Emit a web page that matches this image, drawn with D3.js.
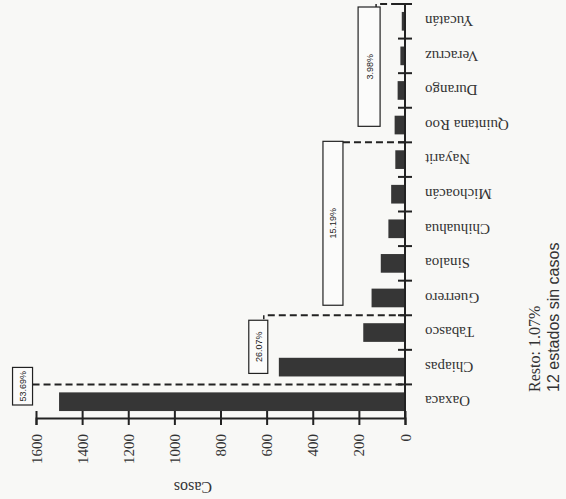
<!DOCTYPE html>
<html>
<head>
<meta charset="utf-8">
<script src="https://cdn.jsdelivr.net/npm/d3@7"></script>
<style>
  body { margin: 0; background: #f8f8f6; }
  svg { display: block; }
</style>
</head>
<body>
<div id="chart"></div>
<script>
// data
var estados = ["Oaxaca", "Chiapas", "Tabasco", "Guerrero", "Sinaloa", "Chihuahua",
               "Michoacán", "Nayarit", "Quintana Roo", "Durango", "Veracruz", "Yucatán"];
var casos = [1500, 547, 181, 145, 105, 72, 60, 42, 45, 32, 20, 14];
var casosTicks = [0, 200, 400, 600, 800, 1000, 1200, 1400, 1600];

// groups of states and their share of cases
var grupoDesde = ["Oaxaca", "Chiapas", "Guerrero", "Quintana Roo"];
var grupoHasta = ["Oaxaca", "Tabasco", "Nayarit", "Yucatán"];
var grupoPct = ["53.69%", "26.07%", "15.19%", "3.98%"];
var resto = ["Resto: 1.07%", "12 estados sin casos"];

// annotation layout (where each bracket box sits, in Casos units / pixel insets)
var cajaEn = [1615, 595, 269, 108];
var cajaAncho = [20, 19, 20, 22];
var cajaInset = [[-17, 14], [5, 11], [-1, 10], [3, 16]];

var width = 566, height = 499;
var ink = "#222";

var svg = d3.select("#chart").append("svg")
    .attr("width", width)
    .attr("height", height);

svg.append("rect").attr("width", width).attr("height", height).attr("fill", "#f8f8f6");

// set the ranges (page is rotated: zero on the right, states stacked bottom-up)
var x = d3.scaleLinear().domain([0, 1600]).range([405, 36]);
var y = d3.scaleBand().domain(estados).range([419, 4]).paddingInner(0.46).paddingOuter(0.23);

var step = y.step(), bw = y.bandwidth();
function bandTop(c) { return y(c) - (step - bw) / 2; }
function bandBottom(c) { return y(c) + bw + (step - bw) / 2; }

var data = estados.map(function(d, i) { return {estado: d, casos: casos[i]}; });

// bars
svg.selectAll(".bar")
    .data(data)
  .enter().append("rect")
    .attr("class", "bar")
    .attr("x", function(d) { return x(d.casos); })
    .attr("y", function(d) { return y(d.estado); })
    .attr("width", function(d) { return x(0) - x(d.casos); })
    .attr("height", bw)
    .attr("fill", "#363636");

// value axis
var xAxis = d3.axisBottom(x).tickValues(casosTicks).tickFormat(d3.format("d"))
    .tickSizeOuter(0).tickSize(7);
var gx = svg.append("g")
    .attr("transform", "translate(0," + 418 + ")")
    .call(xAxis);
gx.select(".domain").attr("stroke", ink).attr("stroke-width", 2);
gx.selectAll(".tick line").attr("y1", -7).attr("stroke", ink).attr("stroke-width", 2);
gx.selectAll(".tick text")
    .attr("y", 0).attr("dy", 0)
    .attr("transform", "translate(5,16) rotate(-90)")
    .attr("text-anchor", "end")
    .attr("fill", "#333")
    .style("font-family", "'Liberation Serif', 'DejaVu Serif', serif")
    .style("font-size", "15px");

// category axis line with ticks at band boundaries
svg.append("line")
    .attr("x1", x(0)).attr("x2", x(0))
    .attr("y1", y.range()[1]).attr("y2", y.range()[0])
    .attr("stroke", ink).attr("stroke-width", 2);

var fronteras = estados.map(function(d) { return bandTop(d); });
svg.selectAll(".cat-tick")
    .data(fronteras)
  .enter().append("line")
    .attr("class", "cat-tick")
    .attr("x1", x(0) - 7).attr("x2", x(0) + 7)
    .attr("y1", function(d) { return d; })
    .attr("y2", function(d) { return d; })
    .attr("stroke", ink).attr("stroke-width", 2);

// state labels, upside down
svg.selectAll(".cat-label")
    .data(estados)
  .enter().append("text")
    .attr("class", "cat-label")
    .attr("x", 425)
    .attr("y", function(d) { return y(d) + bw / 2; })
    .attr("dy", "0.35em")
    .attr("transform", function(d) { return "rotate(180,425," + (y(d) + bw / 2) + ")"; })
    .attr("text-anchor", "end")
    .attr("fill", "#333")
    .style("font-family", "'Liberation Serif', 'DejaVu Serif', serif")
    .style("font-size", "15px")
    .text(function(d) { return d; });

// axis title
svg.append("text")
    .attr("transform", "translate(193,482) rotate(180)")
    .attr("text-anchor", "middle")
    .attr("fill", "#333")
    .style("font-family", "'Liberation Serif', 'DejaVu Serif', serif")
    .style("font-size", "16px")
    .text("Casos");

// group brackets
grupoPct.forEach(function(p, i) {
  var top = bandTop(grupoHasta[i]);
  var bottom = bandBottom(grupoDesde[i]);
  var bx = x(cajaEn[i]);
  var y0 = top + cajaInset[i][0], y1 = bottom - cajaInset[i][1];

  svg.append("line")
      .attr("x1", bx).attr("x2", x(0))
      .attr("y1", top).attr("y2", top)
      .attr("stroke", ink).attr("stroke-width", 2)
      .attr("stroke-dasharray", "7,4");

  if (y0 > top) {
    svg.append("line")
        .attr("x1", bx - 4).attr("x2", bx - 4)
        .attr("y1", top).attr("y2", y0)
        .attr("stroke", ink).attr("stroke-width", 1.5)
        .attr("stroke-dasharray", "4,3");
  }

  svg.append("rect")
      .attr("x", bx - cajaAncho[i]).attr("y", y0)
      .attr("width", cajaAncho[i]).attr("height", y1 - y0)
      .attr("fill", "#fbfbfa")
      .attr("stroke", ink).attr("stroke-width", 1.2);

  svg.append("text")
      .attr("transform", "translate(" + (bx - cajaAncho[i] / 2 + 3.5) + "," + ((y0 + y1) / 2) + ") rotate(-90)")
      .attr("text-anchor", "middle")
      .attr("fill", "#222")
      .style("font-family", "'Liberation Sans', Arial, sans-serif")
      .style("font-size", "9px")
      .text(p);
});

// remainder note
svg.append("text")
    .attr("transform", "translate(540,392) rotate(-90)")
    .attr("fill", "#333")
    .style("font-family", "'Liberation Serif', 'DejaVu Serif', serif")
    .style("font-size", "16px")
    .text(resto[0]);

svg.append("text")
    .attr("transform", "translate(559,392) rotate(-90)")
    .attr("fill", "#333")
    .style("font-family", "'Liberation Sans', Arial, sans-serif")
    .style("font-size", "16px")
    .text(resto[1]);
</script>
</body>
</html>
